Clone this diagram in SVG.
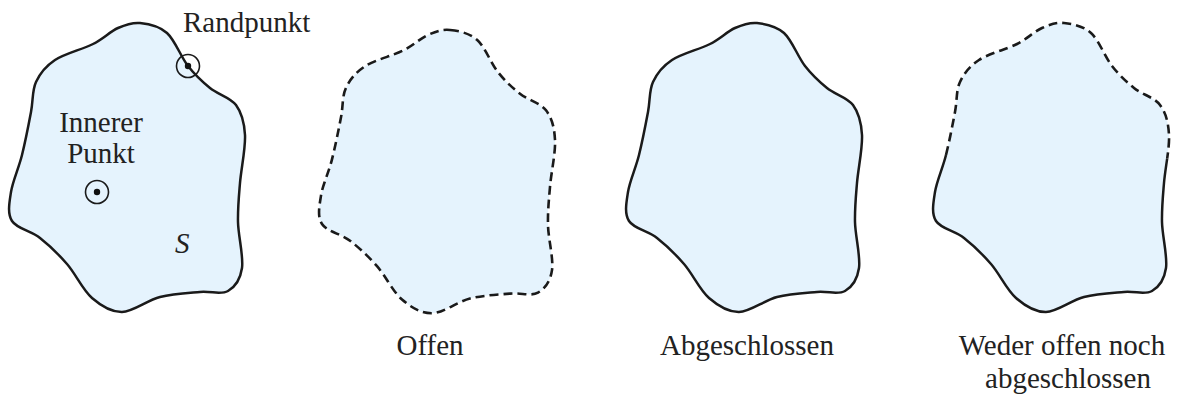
<svg xmlns="http://www.w3.org/2000/svg" xmlns:xlink="http://www.w3.org/1999/xlink" width="1178" height="396" viewBox="0 0 1178 396">
<style>
.fill{fill:#e5f3fd;stroke:none}
.solid{fill:none;stroke:#1a1a1a;stroke-width:2.5;stroke-linejoin:round}
.dash{fill:none;stroke:#1a1a1a;stroke-width:2.6;stroke-dasharray:9 5}
.lbl{font-family:"Liberation Serif","Times New Roman",serif;font-size:29px;fill:#222}
.mid{text-anchor:middle}
.ring{fill:none;stroke:#1a1a1a;stroke-width:1.6}
.dot{fill:#111}
</style>
<defs>
<path id="blob" d="M 140,23 C 148.2,23.8 159,25.8 167,33 C 175,40.2 180.8,56.8 188,66 C 195.2,75.2 202,81.5 210,88 C 218,94.5 230.2,97.2 236,105 C 241.8,112.8 244.3,122 245,135 C 245.7,148 241.2,168.5 240,183 C 238.8,197.5 237.7,207.8 238,222 C 238.3,236.2 243.7,256.5 242,268 C 240.3,279.5 235,287 228,291 C 221,295 211.3,291 200,292 C 188.7,293 173,293.7 160,297 C 147,300.3 133.3,311.8 122,312 C 110.7,312.2 101.2,306 92,298 C 82.8,290 75.7,274 67,264 C 58.3,254 49.2,245.2 40,238 C 30.8,230.8 16.8,228.7 12,221 C 7.2,213.3 9.3,203 11,192 C 12.7,181 18.7,168.3 22,155 C 25.3,141.7 28.7,124.2 31,112 C 33.3,99.8 32,90.7 36,82 C 40,73.3 45.5,66.3 55,60 C 64.5,53.7 82.5,49.3 93,44 C 103.5,38.7 110.2,31.5 118,28 C 125.8,24.5 131.8,22.2 140,23 Z"/>
<path id="topPart" d="M 22,155 C 25.3,141.7 28.7,124.2 31,112 C 33.3,99.8 32,90.7 36,82 C 40,73.3 45.5,66.3 55,60 C 64.5,53.7 82.5,49.3 93,44 C 103.5,38.7 110.2,31.5 118,28 C 125.8,24.5 131.8,22.2 140,23 C 148.2,23.8 159,25.8 167,33 C 175,40.2 180.8,56.8 188,66 C 195.2,75.2 202,81.5 210,88 C 218,94.5 230.2,97.2 236,105 C 241.8,112.8 244.3,122 245,135 C 245.35,141.5 244.4,149.9 243.2,158.4"/>
<path id="bottomPart" d="M 243.2,158.4 C 242,167 240.6,175.75 240,183 C 238.8,197.5 237.7,207.8 238,222 C 238.3,236.2 243.7,256.5 242,268 C 240.3,279.5 235,287 228,291 C 221,295 211.3,291 200,292 C 188.7,293 173,293.7 160,297 C 147,300.3 133.3,311.8 122,312 C 110.7,312.2 101.2,306 92,298 C 82.8,290 75.7,274 67,264 C 58.3,254 49.2,245.2 40,238 C 30.8,230.8 16.8,228.7 12,221 C 7.2,213.3 9.3,203 11,192 C 12.7,181 18.7,168.3 22,155"/>
</defs>

<g id="set-s">
<use xlink:href="#blob" class="fill"/>
<use xlink:href="#blob" class="solid"/>
<g id="randpunkt">
<circle cx="188" cy="66" r="11.5" class="ring"/>
<circle cx="188" cy="66" r="3.2" class="dot"/>
<text x="183" y="32" class="lbl">Randpunkt</text>
</g>
<g id="innerer-punkt">
<text x="101" y="132" class="lbl mid">Innerer</text>
<text x="101" y="163" class="lbl mid">Punkt</text>
<circle cx="97" cy="192" r="11.5" class="ring"/>
<circle cx="97" cy="192" r="3.2" class="dot"/>
</g>
<text x="175" y="253" class="lbl" font-style="italic">S</text>
</g>

<g id="offen">
<g transform="translate(310,30) scale(1,0.98) translate(0,-23)">
<use xlink:href="#blob" class="fill"/>
<use xlink:href="#blob" class="dash"/>
</g>
<text x="430" y="355" class="lbl mid">Offen</text>
</g>

<g id="abgeschlossen">
<g transform="translate(617,0)">
<use xlink:href="#blob" class="fill"/>
<use xlink:href="#blob" class="solid"/>
</g>
<text x="747" y="355" class="lbl mid">Abgeschlossen</text>
</g>

<g id="weder-noch">
<g transform="translate(924,0)">
<use xlink:href="#blob" class="fill"/>
<use xlink:href="#topPart" class="dash"/>
<use xlink:href="#bottomPart" class="solid"/>
</g>
<text x="1062" y="355" class="lbl mid">Weder offen noch</text>
<text x="1068" y="388" class="lbl mid">abgeschlossen</text>
</g>
</svg>
